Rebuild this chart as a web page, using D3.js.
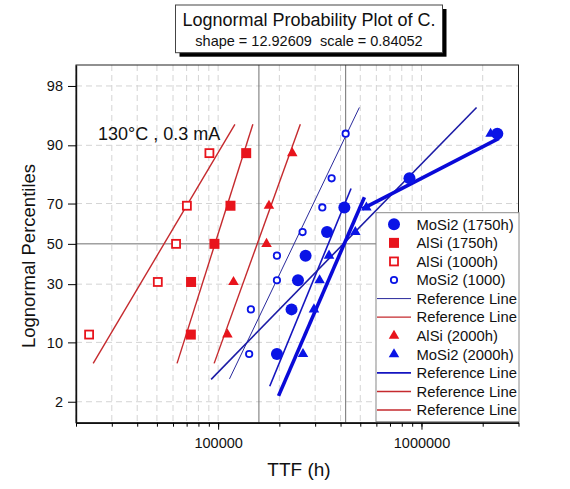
<!DOCTYPE html>
<html>
<head>
<meta charset="utf-8">
<script src="https://d3js.org/d3.v7.min.js"></script>
<style>
	body { margin: 0; background: white; }
	svg { font-family: "Liberation Sans", Arial, sans-serif; }
</style>
</head>
<body>
<svg id="chart" width="570" height="489"></svg>
<script>
// ---- data ----
const xMajorTicks = [100000, 1000000];
const yTicks = [2, 10, 30, 50, 70, 90, 98];

// percentiles of the ranked points
const pct5 = [11.9, 31.0, 50, 69.0, 88.1];
const pct8 = [7.6, 19.7, 31.8, 43.9, 56.1, 68.2, 80.3, 92.4];
const pct7 = [7.6, 19.7, 31.8, 43.9, 56.1, 68.2, 92.4];

// times to failure (h)
const alsi1000 = [23200, 50500, 62100, 70200, 90600];
const alsi1750 = [73400, 73600, 95900, 115000, 137400];
const alsi2000 = [111100, 119000, 173000, 177800, 231500];
const mosi1000 = [142100, 144900, 194600, 194600, 260200, 325300, 361500, 423800];
const mosi1750 = [194600, 229600, 247000, 269200, 343200, 417500, 873000, 2360000];
const mosi2000 = [261400, 296000, 315500, 351000, 473000, 535800, 2187000];

// reference lines: end times and end percentiles
const redLineT = [[24300, 120900], [62800, 148200], [95600, 253600]];
const redLineP = [6, 94];
const blueLineT = [[113700, 495000], [179400, 450500], [92400, 1866000], [198200, 524000], [512000, 2403000]];
const blueLineP = [[3.95, 96.2], [3.2, 76.4], [3.9, 96.2], [2.4, 72.8], [67.5, 91.5]];

// solid marker lines
const vMarks = [158700, 423800];
const hMarks = [50];

const legendLabels = ["MoSi2 (1750h)", "AlSi (1750h)", "AlSi (1000h)", "MoSi2 (1000)",
	"Reference Line", "Reference Line", "AlSi (2000h)", "MoSi2 (2000h)",
	"Reference Line", "Reference Line", "Reference Line"];

// ---- helpers ----
function probit(p) {
	const a = [-3.969683028665376e+01, 2.209460984245205e+02, -2.759285104469687e+02, 1.383577518672690e+02, -3.066479806614716e+01, 2.506628277459239e+00];
	const b = [-5.447609879822406e+01, 1.615858368580409e+02, -1.556989798598866e+02, 6.680131188771972e+01, -1.328068155288572e+01];
	const c = [-7.784894002430293e-03, -3.223964580411365e-01, -2.400758277161838e+00, -2.549732539343734e+00, 4.374664141464968e+00, 2.938163982698783e+00];
	const d = [7.784695709041462e-03, 3.224671290700398e-01, 2.445134137142996e+00, 3.754408661907416e+00];
	const plow = 0.02425;
	let q, r;
	if (p < plow) {
		q = Math.sqrt(-2 * Math.log(p));
		return (((((c[0]*q+c[1])*q+c[2])*q+c[3])*q+c[4])*q+c[5]) / ((((d[0]*q+d[1])*q+d[2])*q+d[3])*q+1);
	}
	if (p > 1 - plow) {
		q = Math.sqrt(-2 * Math.log(1 - p));
		return -(((((c[0]*q+c[1])*q+c[2])*q+c[3])*q+c[4])*q+c[5]) / ((((d[0]*q+d[1])*q+d[2])*q+d[3])*q+1);
	}
	q = p - 0.5; r = q * q;
	return (((((a[0]*r+a[1])*r+a[2])*r+a[3])*r+a[4])*r+a[5])*q / (((((b[0]*r+b[1])*r+b[2])*r+b[3])*r+b[4])*r+1);
}

const pLeft = 76, pRight = 518.5, pTop = 65, pBottom = 422.7;
const RED = "#e8141c", REDLINE = "#c52a2e", BLUE = "#0a14e6";

const x = d3.scaleLog().domain([20000, 3000000]).range([pLeft, pRight]);
const zScale = d3.scaleLinear().domain([probit(0.01), probit(0.99)]).range([pBottom, pTop]);
const y = p => zScale(probit(p / 100));

const svg = d3.select("#chart");

// minor log ticks
let minorTicks = [];
[10000, 100000, 1000000].forEach(dec => {
	for (let k = 1; k < 10; k++) {
		const v = dec * k;
		if (v >= 20000 && v <= 3000000) minorTicks.push(v);
	}
});

// grid
const grid = svg.append("g");
grid.selectAll(".vg").data(minorTicks).enter().append("line")
	.attr("x1", d => x(d)).attr("x2", d => x(d))
	.attr("y1", pTop).attr("y2", pBottom)
	.attr("stroke", "#d4d4d4").attr("stroke-dasharray", "6,4");
grid.selectAll(".hg").data(yTicks.filter(t => hMarks.indexOf(t) < 0)).enter().append("line")
	.attr("x1", pLeft).attr("x2", pRight)
	.attr("y1", d => y(d)).attr("y2", d => y(d))
	.attr("stroke", "#d4d4d4").attr("stroke-dasharray", "6,4");

// solid marker lines
grid.selectAll(".vm").data(vMarks).enter().append("line")
	.attr("x1", d => x(d)).attr("x2", d => x(d))
	.attr("y1", pTop).attr("y2", pBottom)
	.attr("stroke", "#707070");
grid.selectAll(".hm").data(hMarks).enter().append("line")
	.attr("x1", pLeft).attr("x2", pRight)
	.attr("y1", d => y(d)).attr("y2", d => y(d))
	.attr("stroke", "#707070");

// reference lines
const lines = svg.append("g").attr("fill", "none");
redLineT.forEach(t => {
	lines.append("line")
		.attr("x1", x(t[0])).attr("y1", y(redLineP[0]))
		.attr("x2", x(t[1])).attr("y2", y(redLineP[1]))
		.attr("stroke", REDLINE).attr("stroke-width", 1.4);
});
const blueStyles = [
	{ c: "#2a2a9c", w: 1 },
	{ c: "#1414c0", w: 1.6 },
	{ c: "#1c1ca6", w: 1.6 },
	{ c: "#0a0ad8", w: 3.6 },
	{ c: "#0a0ad8", w: 3.6 }
];
blueLineT.forEach((t, i) => {
	lines.append("line")
		.attr("x1", x(t[0])).attr("y1", y(blueLineP[i][0]))
		.attr("x2", x(t[1])).attr("y2", y(blueLineP[i][1]))
		.attr("stroke", blueStyles[i].c).attr("stroke-width", blueStyles[i].w);
});

// markers
function drawSquares(g, ts, ps, filled) {
	const s = filled ? 10 : 8;
	g.selectAll(null).data(ts).enter().append("rect")
		.attr("x", d => x(d) - s / 2)
		.attr("y", (d, i) => y(ps[i]) - s / 2)
		.attr("width", s).attr("height", s)
		.attr("fill", filled ? RED : "white")
		.attr("stroke", RED).attr("stroke-width", filled ? 0 : 1.8);
}
function drawCircles(g, ts, ps, filled) {
	g.selectAll(null).data(ts).enter().append("circle")
		.attr("cx", d => x(d))
		.attr("cy", (d, i) => y(ps[i]))
		.attr("r", filled ? 6 : 3.2)
		.attr("fill", filled ? BLUE : "white")
		.attr("stroke", BLUE).attr("stroke-width", filled ? 0 : 1.8);
}
function drawTriangles(g, ts, ps, color) {
	const tri = d3.symbol(d3.symbolTriangle, 48);
	g.selectAll(null).data(ts).enter().append("path")
		.attr("d", tri)
		.attr("transform", (d, i) => `translate(${x(d)},${y(ps[i])})`)
		.attr("fill", color);
}
const marks = svg.append("g");
drawSquares(marks, alsi1000, pct5, false);
drawSquares(marks, alsi1750, pct5, true);
drawTriangles(marks, alsi2000, pct5, RED);
drawCircles(marks, mosi1000, pct8, false);
drawTriangles(marks, mosi2000, pct7, BLUE);
drawCircles(marks, mosi1750, pct8, true);

// frame
svg.append("rect")
	.attr("x", pLeft).attr("y", pTop)
	.attr("width", pRight - pLeft).attr("height", pBottom - pTop)
	.attr("fill", "none").attr("stroke", "#222").attr("stroke-width", 1);

// x axis
const xMinor = d3.axisBottom(x).tickValues(minorTicks).tickSize(4).tickSizeOuter(0).tickFormat("");
svg.append("g").attr("transform", `translate(0,${pBottom})`).call(xMinor)
	.call(g => g.select(".domain").attr("stroke", "#111").attr("stroke-width", 1.4));
const xMajor = d3.axisBottom(x).tickValues(xMajorTicks).tickSize(7).tickSizeOuter(0)
	.tickFormat(d3.format("d"));
svg.append("g").attr("transform", `translate(0,${pBottom})`).call(xMajor)
	.call(g => g.select(".domain").remove())
	.call(g => g.selectAll("text").attr("font-size", 14.5).attr("fill", "#111").attr("dy", "1.05em"));

// y axis
const yAxis = d3.axisLeft(zScale)
	.tickValues(yTicks.map(v => probit(v / 100)))
	.tickFormat((d, i) => yTicks[i])
	.tickSize(8).tickSizeOuter(0);
svg.append("g").attr("transform", `translate(${pLeft},0)`).call(yAxis)
	.call(g => g.select(".domain").attr("stroke", "#111").attr("stroke-width", 1.4))
	.call(g => g.selectAll("text").attr("font-size", 14.5).attr("fill", "#111").attr("x", -13));

// axis titles
svg.append("text").attr("x", 299).attr("y", 476).attr("text-anchor", "middle")
	.attr("font-size", 19).attr("fill", "#111").text("TTF (h)");
svg.append("text").attr("transform", "translate(35,256) rotate(-90)").attr("text-anchor", "middle")
	.attr("font-size", 18.5).attr("fill", "#111").text("Lognormal Percentiles");

// annotation
svg.append("text").attr("x", 98).attr("y", 140)
	.attr("font-size", 18).attr("fill", "#111").text("130°C , 0.3 mA");

// legend
const lg = svg.append("g");
lg.append("rect").attr("x", 376).attr("y", 212.7).attr("width", 143).attr("height", 209)
	.attr("fill", "white").attr("stroke", "#8a8a8a");
const legendKinds = ["fc", "fs", "os", "oc", "l0", "r", "rt", "bt", "l2", "r", "r"];
legendLabels.forEach((lab, i) => {
	const cy = 224.3 + i * 18.57;
	const k = legendKinds[i];
	const cx = 394;
	if (k === "fc") lg.append("circle").attr("cx", cx).attr("cy", cy).attr("r", 6).attr("fill", BLUE);
	if (k === "oc") lg.append("circle").attr("cx", cx).attr("cy", cy).attr("r", 3.2)
		.attr("fill", "white").attr("stroke", BLUE).attr("stroke-width", 1.8);
	if (k === "fs") lg.append("rect").attr("x", cx - 5).attr("y", cy - 5).attr("width", 10).attr("height", 10).attr("fill", RED);
	if (k === "os") lg.append("rect").attr("x", cx - 4).attr("y", cy - 4).attr("width", 8).attr("height", 8)
		.attr("fill", "white").attr("stroke", RED).attr("stroke-width", 1.8);
	if (k === "rt" || k === "bt") lg.append("path").attr("d", d3.symbol(d3.symbolTriangle, 48))
		.attr("transform", `translate(${cx},${cy})`).attr("fill", k === "rt" ? RED : BLUE);
	if (k === "l0" || k === "l2" || k === "r") {
		const st = k === "l0" ? { c: "#2a2a9c", w: 1 } : k === "l2" ? { c: "#1414c0", w: 1.8 } : { c: REDLINE, w: 1.4 };
		lg.append("line").attr("x1", 377).attr("x2", 411).attr("y1", cy).attr("y2", cy)
			.attr("stroke", st.c).attr("stroke-width", st.w);
	}
	lg.append("text").attr("x", 416.5).attr("y", cy).attr("dy", "0.36em")
		.attr("font-size", 14.8).attr("fill", "#111").text(lab);
});

// title box
const tb = svg.append("g");
tb.append("rect").attr("x", 179.5).attr("y", 9).attr("width", 267).attr("height", 47.7).attr("fill", "#000");
tb.append("rect").attr("x", 175.5).attr("y", 5).attr("width", 267).attr("height", 47.7)
	.attr("fill", "white").attr("stroke", "#444");
tb.append("text").attr("x", 309).attr("y", 25.5).attr("text-anchor", "middle")
	.attr("font-size", 18).attr("fill", "#111").text("Lognormal Probability Plot of C.");
tb.append("text").attr("x", 309).attr("y", 45.5).attr("text-anchor", "middle")
	.attr("font-size", 14.5).attr("fill", "#111")
	.style("white-space", "pre").text("shape = 12.92609  scale = 0.84052");
</script>
</body>
</html>
